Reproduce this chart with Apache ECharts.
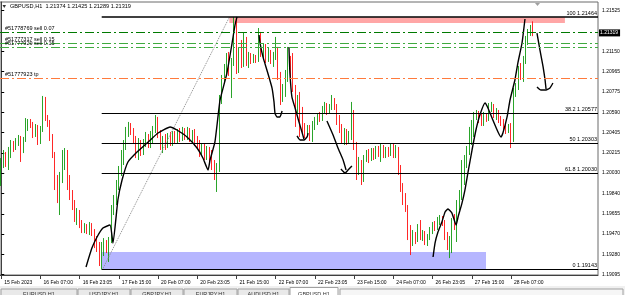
<!DOCTYPE html>
<html><head><meta charset="utf-8">
<script src="https://cdn.jsdelivr.net/npm/echarts@6/dist/echarts.min.js"></script>
<style>html,body{margin:0;padding:0;background:#fff}#c{width:625px;height:295px}</style>
</head><body><div id="c"></div>
<script>
// ---------- DATA ----------
const timeLabels = ['15 Feb 2023','16 Feb 07:00','16 Feb 23:05','17 Feb 15:00','20 Feb 07:00','20 Feb 23:05','21 Feb 15:00','22 Feb 07:00','22 Feb 23:05','23 Feb 15:00','24 Feb 07:00','26 Feb 23:05','27 Feb 15:00','28 Feb 07:00'];
const barsPerLabel = 16;
const slotCount = 244;

const opens = [1.19984,1.20104,1.20168,1.20122,1.20224,1.20288,1.20260,1.20325,1.20352,1.20242,1.20334,1.20444,1.20500,1.20463,1.20380,1.20444,1.20316,1.20426,1.20702,1.20536,1.20481,1.20352,1.20196,1.19984,1.19810,1.19966,1.20104,1.20196,1.19984,1.19828,1.19736,1.19644,1.19672,1.19552,1.19506,1.19543,1.19497,1.19543,1.19488,1.19414,1.19359,1.19212,1.19322,1.19377,1.19340,1.19414,1.19690,1.19782,1.19920,1.20040,1.20168,1.20288,1.20398,1.20463,1.20408,1.20334,1.20242,1.20297,1.20224,1.20306,1.20352,1.20288,1.20371,1.20426,1.20518,1.20380,1.20279,1.20334,1.20288,1.20362,1.20316,1.20371,1.20334,1.20389,1.20352,1.20408,1.20371,1.20417,1.20362,1.20398,1.20334,1.20288,1.20224,1.20260,1.20187,1.20242,1.20196,1.20104,1.20049,1.20076,1.20702,1.20886,1.20978,1.21088,1.20960,1.21052,1.21401,1.20978,1.21116,1.21024,1.21254,1.21052,1.21107,1.21061,1.21098,1.21070,1.21300,1.21144,1.21199,1.21088,1.21144,1.21061,1.21107,1.21162,1.20932,1.20702,1.20812,1.20904,1.21070,1.20960,1.20812,1.20592,1.20656,1.20518,1.20426,1.20408,1.20444,1.20352,1.20481,1.20518,1.20555,1.20536,1.20610,1.20647,1.20592,1.20638,1.20702,1.20647,1.20536,1.20444,1.20371,1.20408,1.20334,1.20371,1.20592,1.20288,1.20058,1.20132,1.19984,1.20168,1.20214,1.20168,1.20224,1.20178,1.20242,1.20224,1.20260,1.20196,1.20242,1.20214,1.20251,1.20196,1.20242,1.20058,1.19892,1.19782,1.19718,1.19506,1.19386,1.19451,1.19414,1.19543,1.19432,1.19478,1.19396,1.19442,1.19497,1.19552,1.19524,1.19598,1.19616,1.19580,1.19460,1.19368,1.19414,1.19580,1.19524,1.19745,1.19819,1.20012,1.20150,1.20242,1.20380,1.20472,1.20536,1.20573,1.20518,1.20481,1.20555,1.20527,1.20610,1.20647,1.20564,1.20592,1.20518,1.20500,1.20454,1.20417,1.20454,1.20362,1.20776,1.20831,1.20960,1.20904,1.21070,1.21254,1.21328,1.21374];
const closes = [1.20104,1.20168,1.20122,1.20224,1.20288,1.20260,1.20325,1.20352,1.20242,1.20334,1.20444,1.20500,1.20463,1.20380,1.20444,1.20316,1.20426,1.20702,1.20536,1.20481,1.20352,1.20196,1.19984,1.19810,1.19966,1.20104,1.20196,1.19984,1.19828,1.19736,1.19644,1.19672,1.19552,1.19506,1.19543,1.19497,1.19543,1.19488,1.19414,1.19359,1.19212,1.19322,1.19377,1.19340,1.19414,1.19690,1.19782,1.19920,1.20040,1.20168,1.20288,1.20398,1.20463,1.20408,1.20334,1.20242,1.20297,1.20224,1.20306,1.20352,1.20288,1.20371,1.20426,1.20518,1.20380,1.20279,1.20334,1.20288,1.20362,1.20316,1.20371,1.20334,1.20389,1.20352,1.20408,1.20371,1.20417,1.20362,1.20398,1.20334,1.20288,1.20224,1.20260,1.20187,1.20242,1.20196,1.20104,1.20049,1.20076,1.20702,1.20886,1.20978,1.21088,1.20960,1.21052,1.21401,1.20978,1.21116,1.21024,1.21254,1.21052,1.21107,1.21061,1.21098,1.21070,1.21300,1.21144,1.21199,1.21088,1.21144,1.21061,1.21107,1.21162,1.20932,1.20702,1.20812,1.20904,1.21070,1.20960,1.20812,1.20592,1.20656,1.20518,1.20426,1.20408,1.20444,1.20352,1.20481,1.20518,1.20555,1.20536,1.20610,1.20647,1.20592,1.20638,1.20702,1.20647,1.20536,1.20444,1.20371,1.20408,1.20334,1.20371,1.20592,1.20288,1.20058,1.20132,1.19984,1.20168,1.20214,1.20168,1.20224,1.20178,1.20242,1.20224,1.20260,1.20196,1.20242,1.20214,1.20251,1.20196,1.20242,1.20058,1.19892,1.19782,1.19718,1.19506,1.19386,1.19451,1.19414,1.19543,1.19432,1.19478,1.19396,1.19442,1.19497,1.19552,1.19524,1.19598,1.19616,1.19580,1.19460,1.19368,1.19414,1.19580,1.19524,1.19745,1.19819,1.20012,1.20150,1.20242,1.20380,1.20472,1.20536,1.20573,1.20518,1.20481,1.20555,1.20527,1.20610,1.20647,1.20564,1.20592,1.20518,1.20500,1.20454,1.20417,1.20454,1.20362,1.20776,1.20831,1.20960,1.20904,1.21070,1.21254,1.21328,1.21374,1.21319];
const lows = [1.19911,1.20076,1.20086,1.20058,1.20168,1.20224,1.20242,1.20279,1.20132,1.20214,1.20316,1.20417,1.20444,1.20352,1.20362,1.20288,1.20297,1.20408,1.20509,1.20454,1.20325,1.20168,1.19874,1.19754,1.19644,1.19938,1.20058,1.19874,1.19782,1.19690,1.19580,1.19552,1.19524,1.19478,1.19478,1.19469,1.19460,1.19451,1.19340,1.19304,1.19175,1.19143,1.19267,1.19294,1.19212,1.19386,1.19644,1.19736,1.19874,1.20003,1.20104,1.20242,1.20362,1.20380,1.20297,1.20168,1.20150,1.20187,1.20196,1.20270,1.20260,1.20260,1.20306,1.20398,1.20352,1.20242,1.20214,1.20242,1.20260,1.20279,1.20279,1.20297,1.20306,1.20316,1.20325,1.20334,1.20334,1.20316,1.20316,1.20279,1.20251,1.20178,1.20187,1.20150,1.20150,1.20132,1.20058,1.19966,1.19856,1.20040,1.20665,1.20849,1.20932,1.20923,1.20720,1.21015,1.20941,1.20950,1.20996,1.21006,1.21015,1.20996,1.21033,1.21042,1.21042,1.21052,1.21098,1.21088,1.21042,1.21052,1.21033,1.21006,1.21070,1.20886,1.20656,1.20684,1.20730,1.20868,1.20914,1.20776,1.20454,1.20573,1.20362,1.20398,1.20352,1.20362,1.20325,1.20316,1.20426,1.20472,1.20500,1.20509,1.20573,1.20564,1.20573,1.20610,1.20610,1.20472,1.20398,1.20306,1.20288,1.20288,1.20297,1.20334,1.20242,1.19966,1.20012,1.19920,1.19948,1.20132,1.20122,1.20141,1.20150,1.20159,1.20178,1.20132,1.20168,1.20168,1.20178,1.20187,1.20168,1.20168,1.20012,1.19856,1.19736,1.19672,1.19414,1.19276,1.19359,1.19377,1.19396,1.19414,1.19405,1.19368,1.19359,1.19414,1.19469,1.19497,1.19506,1.19552,1.19543,1.19414,1.19322,1.19248,1.19294,1.19506,1.19396,1.19690,1.19782,1.19920,1.20076,1.20196,1.20288,1.20362,1.20518,1.20490,1.20463,1.20463,1.20500,1.20509,1.20592,1.20536,1.20518,1.20490,1.20463,1.20426,1.20389,1.20398,1.20260,1.20316,1.20730,1.20794,1.20886,1.20868,1.21033,1.21208,1.21291,1.21289];
const highs = [1.20168,1.20242,1.20224,1.20270,1.20334,1.20325,1.20352,1.20380,1.20371,1.20362,1.20536,1.20527,1.20527,1.20500,1.20481,1.20472,1.20463,1.20739,1.20730,1.20564,1.20518,1.20389,1.20224,1.20012,1.20040,1.20242,1.20260,1.20242,1.20012,1.19874,1.19782,1.19708,1.19690,1.19598,1.19570,1.19561,1.19580,1.19570,1.19515,1.19451,1.19396,1.19396,1.19432,1.19414,1.19442,1.19736,1.19828,1.19966,1.20095,1.20242,1.20334,1.20454,1.20500,1.20490,1.20444,1.20371,1.20352,1.20334,1.20343,1.20408,1.20389,1.20417,1.20463,1.20564,1.20546,1.20426,1.20371,1.20389,1.20398,1.20408,1.20417,1.20417,1.20435,1.20444,1.20454,1.20444,1.20454,1.20444,1.20426,1.20435,1.20371,1.20334,1.20306,1.20297,1.20279,1.20270,1.20242,1.20150,1.20122,1.20748,1.20932,1.21033,1.21134,1.21144,1.21088,1.21464,1.21456,1.21180,1.21254,1.21318,1.21282,1.21144,1.21134,1.21125,1.21116,1.21364,1.21328,1.21226,1.21217,1.21180,1.21162,1.21144,1.21282,1.21190,1.20960,1.20849,1.20978,1.21190,1.21107,1.21134,1.20840,1.20748,1.20776,1.20638,1.20490,1.20472,1.20472,1.20509,1.20546,1.20582,1.20592,1.20647,1.20684,1.20674,1.20665,1.20748,1.20720,1.20665,1.20564,1.20481,1.20444,1.20435,1.20417,1.20684,1.20610,1.20316,1.20178,1.20150,1.20196,1.20242,1.20251,1.20260,1.20260,1.20279,1.20279,1.20297,1.20288,1.20270,1.20270,1.20306,1.20306,1.20288,1.20270,1.20104,1.19938,1.19846,1.19736,1.19552,1.19506,1.19488,1.19561,1.19598,1.19506,1.19497,1.19469,1.19534,1.19580,1.19589,1.19626,1.19644,1.19635,1.19598,1.19488,1.19451,1.19616,1.19653,1.19782,1.19874,1.20150,1.20196,1.20279,1.20454,1.20518,1.20592,1.20610,1.20601,1.20582,1.20592,1.20582,1.20674,1.20684,1.20665,1.20628,1.20610,1.20555,1.20527,1.20490,1.20481,1.20490,1.20812,1.20858,1.21015,1.21042,1.21107,1.21291,1.21355,1.21392,1.21425];

const priceTicks = [1.21525,1.21150,1.20965,1.20775,1.20590,1.20405,1.20215,1.20030,1.19840,1.19655,1.19470,1.19280,1.19095];
const lastPrice = 1.21319;
const headerText = 'GBPUSD,H1  1.21374 1.21425 1.21289 1.21319';

const fibNames  = ['100','38.2','50','61.8','0'];
const fibValues = [1.21464,1.20577,1.20303,1.20030,1.19143];
const fibStartBar = 41.0;
const fibDiagonal = [[41.3,1.19143],[93.1,1.21464]];

const tradeLabels = ['#51778769 sell 0.07','#51777317 sell 0.15','#51777929 sell 0.15','#51777923 tp'];
const tradePrices = [1.21325,1.21224,1.21187,1.20902];

const pinkZone = [[93.1,1.21464],[230.0,1.21410]];
const blueZone = [[41.1,1.19304],[197.8,1.19143]];

const strokes = [
  [[34.6,1.19166],[37.0,1.19340],[39.1,1.19442],[41.5,1.19524],[44.4,1.19552],[45.6,1.19386],[47.6,1.19782],[49.3,1.19966],[51.7,1.20132],[55.4,1.20224],[59.5,1.20306],[64.0,1.20398],[68.9,1.20454],[71.7,1.20426],[75.8,1.20362],[79.9,1.20260],[82.3,1.20168],[84.4,1.20058],[85.2,1.20150],[87.2,1.20316],[89.3,1.20702],[92.1,1.20950],[94.2,1.21226],[95.4,1.21392],[96.2,1.21466]],
  [[105.2,1.21300],[105.6,1.21226],[106.8,1.21098],[108.4,1.20978],[110.5,1.20812],[111.3,1.20684],[111.7,1.20582],[112.5,1.20546],[113.7,1.20546],[114.6,1.20601]],
  [[117.4,1.21190],[117.8,1.20950],[118.6,1.20730],[119.9,1.20628],[121.5,1.20500],[122.7,1.20408],[123.5,1.20343]],
  [[120.7,1.20371],[121.9,1.20334],[123.5,1.20334],[124.8,1.20362],[125.2,1.20398]],
  [[132.9,1.20509],[135.4,1.20380],[137.4,1.20260],[139.5,1.20150],[140.7,1.20058]],
  [[138.6,1.20067],[140.3,1.20030],[141.5,1.20058],[143.1,1.20095]],
  [[176.2,1.19258],[177.0,1.19386],[178.2,1.19488],[179.8,1.19580],[181.1,1.19672],[182.3,1.19699],[183.9,1.19662],[185.6,1.19552],[186.4,1.19626],[188.0,1.19754],[189.2,1.19874],[190.4,1.20030],[192.1,1.20242],[193.7,1.20426],[195.3,1.20564],[197.4,1.20674],[198.6,1.20628],[200.6,1.20518],[202.7,1.20408],[203.9,1.20362],[204.7,1.20398],[206.4,1.20546],[207.6,1.20702],[209.6,1.20886],[210.8,1.21042],[212.5,1.21226],[213.7,1.21447]],
  [[218.6,1.21318],[219.8,1.21162],[221.1,1.21006],[221.9,1.20886],[222.3,1.20803]],
  [[218.6,1.20822],[220.2,1.20794],[222.3,1.20794],[223.9,1.20812],[225.1,1.20858]]
];

const tabNames = ['EURUSD,H1','USDJPY,H1','GBPJPY,H1','EURJPY,H1','AUDUSD,H1','GBPUSD,H1'];

// ---------- BUILD ----------
const FONT = 'Liberation Sans';
const xCats = Array.from({length: slotCount}, (_, i) => String(i));
const candleData = opens.map((o, i) => [o, closes[i], lows[i], highs[i]]);
const showTick = (idx) => idx % barsPerLabel === 0 && (idx / barsPerLabel) < timeLabels.length;
const xLeft = -0.5, xRight = slotCount - 0.5;

const green = '#129a12', red = '#ff1010';
const tradeColors = ['#007a00', '#3faa3f', '#3faa3f', '#ff7a3c'];
const dashDot = [9, 3, 2, 3];

const markLineData = [];
fibValues.forEach((v, k) => {
  markLineData.push([
    {coord: [fibStartBar, v], lineStyle: {color: '#000', width: k === 0 ? 1.6 : 1.2, type: 'solid'},
     label: {show: true, position: 'insideEndTop', distance: [1, 1], formatter: fibNames[k] + ' ' + v.toFixed(5),
             color: '#000', fontSize: 5.5, fontFamily: FONT}},
    {coord: [xRight, v]}
  ]);
});
tradePrices.forEach((v, k) => {
  markLineData.push([
    {coord: [xLeft, v], lineStyle: {color: tradeColors[k], width: 1, type: dashDot},
     label: {show: true, position: 'insideStartTop', distance: [5, 1], formatter: tradeLabels[k],
             color: '#000', fontSize: 5.5, fontFamily: FONT}},
    {coord: [xRight, v]}
  ]);
});
markLineData.push([
  {coord: [xLeft, lastPrice], lineStyle: {color: 'rgba(0,0,0,0)', width: 1, type: 'solid'},
   label: {show: true, position: 'end', distance: 1, formatter: lastPrice.toFixed(5),
           color: '#fff', backgroundColor: '#000', padding: [1, 2, 1, 1], fontSize: 5, fontFamily: FONT}},
  {coord: [xRight, lastPrice]}
]);

const series = [
  {
    type: 'line', xAxisIndex: 1, data: [blueZone[1]], symbol: 'none', lineStyle: {opacity: 0}, z: 1, silent: true,
    markArea: {silent: true, data: [
      [{coord: pinkZone[0], itemStyle: {color: '#ffa6a6'}}, {coord: pinkZone[1]}],
      [{coord: blueZone[0], itemStyle: {color: '#b6b6ff'}}, {coord: blueZone[1]}]
    ]}
  },
  {
    type: 'candlestick', xAxisIndex: 0, data: candleData, barWidth: 1.3, z: 2, silent: true,
    itemStyle: {color: green, color0: red, borderColor: green, borderColor0: red, borderWidth: 0.9}
  },
  {
    type: 'line', xAxisIndex: 1, data: fibDiagonal, symbol: 'none', z: 3, silent: true,
    lineStyle: {color: '#8a8a8a', width: 1, type: 'dotted'},
    markLine: {silent: true, symbol: ['none', 'none'], animation: false, data: markLineData}
  }
];
strokes.forEach(s => series.push({
  type: 'line', xAxisIndex: 1, data: s, symbol: 'none', smooth: 0.15, z: 4, silent: true,
  lineStyle: {color: '#000', width: 1.4}
}));

// tab bar graphics
const tabEdges = [[1,77],[78,130],[131,183],[184,237],[238,289],[290,338]];
const graphics = [
  {type: 'rect', shape: {x: 0, y: 286, width: 625, height: 9}, style: {fill: '#f0f0f0'}, silent: true, z: 10},
  {type: 'polygon', shape: {points: [[2.5,5],[6,5],[4.25,8]]}, style: {fill: '#333'}, silent: true, z: 10},
  {type: 'text', x: 10, y: 3.5, style: {text: headerText, fontSize: 5.6, fontFamily: FONT, fill: '#000'}, silent: true, z: 10},
  {type: 'polygon', shape: {points: [[535,3],[540,3],[537.5,6]]}, style: {fill: '#a0a0a0'}, silent: true, z: 10},
  {type: 'rect', shape: {x: 340, y: 289, width: 283, height: 8}, style: {fill: '#f6f6f6', stroke: '#a0a0a0', lineWidth: 1}, silent: true, z: 10}
];
tabEdges.forEach((e, k) => {
  const active = k === tabEdges.length - 1;
  graphics.push({type: 'rect', shape: {x: e[0], y: active ? 287.5 : 289, width: e[1] - e[0], height: 9},
    style: {fill: active ? '#fff' : '#e9e9e9', stroke: '#a0a0a0', lineWidth: 1}, silent: true, z: 10});
  graphics.push({type: 'text', x: (e[0] + e[1]) / 2, y: 291, style: {text: tabNames[k], fontSize: 5.5, fontFamily: FONT,
    fill: '#333', align: 'center'}, silent: true, z: 11});
});

const option = {
  animation: false,
  textStyle: {fontFamily: FONT},
  grid: {left: 0, right: 27, top: 2, bottom: 20, show: true, borderColor: '#6a6a6a', borderWidth: 1, backgroundColor: '#fff'},
  xAxis: [
    {
      type: 'category', data: xCats, boundaryGap: true,
      axisLine: {show: true, lineStyle: {color: '#404040'}},
      axisTick: {show: true, alignWithLabel: true, interval: showTick, length: 4, lineStyle: {color: '#404040'}},
      axisLabel: {interval: showTick, formatter: (v, i) => timeLabels[i / barsPerLabel] || '', align: 'left',
                  padding: [0, 0, 0, 3], fontSize: 5, color: '#000', margin: 5, fontFamily: FONT},
      splitLine: {show: false}
    },
    {type: 'value', min: xLeft, max: xRight, show: false, splitLine: {show: false}}
  ],
  yAxis: {
    type: 'value', position: 'right', min: 1.190924, max: 1.216032,
    splitLine: {show: false},
    axisLine: {show: true, lineStyle: {color: '#404040'}},
    axisTick: {show: true, customValues: priceTicks, length: 3, lineStyle: {color: '#000'}},
    axisLabel: {customValues: priceTicks, formatter: v => v.toFixed(5), fontSize: 5, color: '#000', margin: 4, fontFamily: FONT}
  },
  series: series,
  graphic: graphics
};

const chart = echarts.init(document.getElementById('c'), null, {renderer: 'canvas'});
chart.setOption(option);
</script>
</body></html>
